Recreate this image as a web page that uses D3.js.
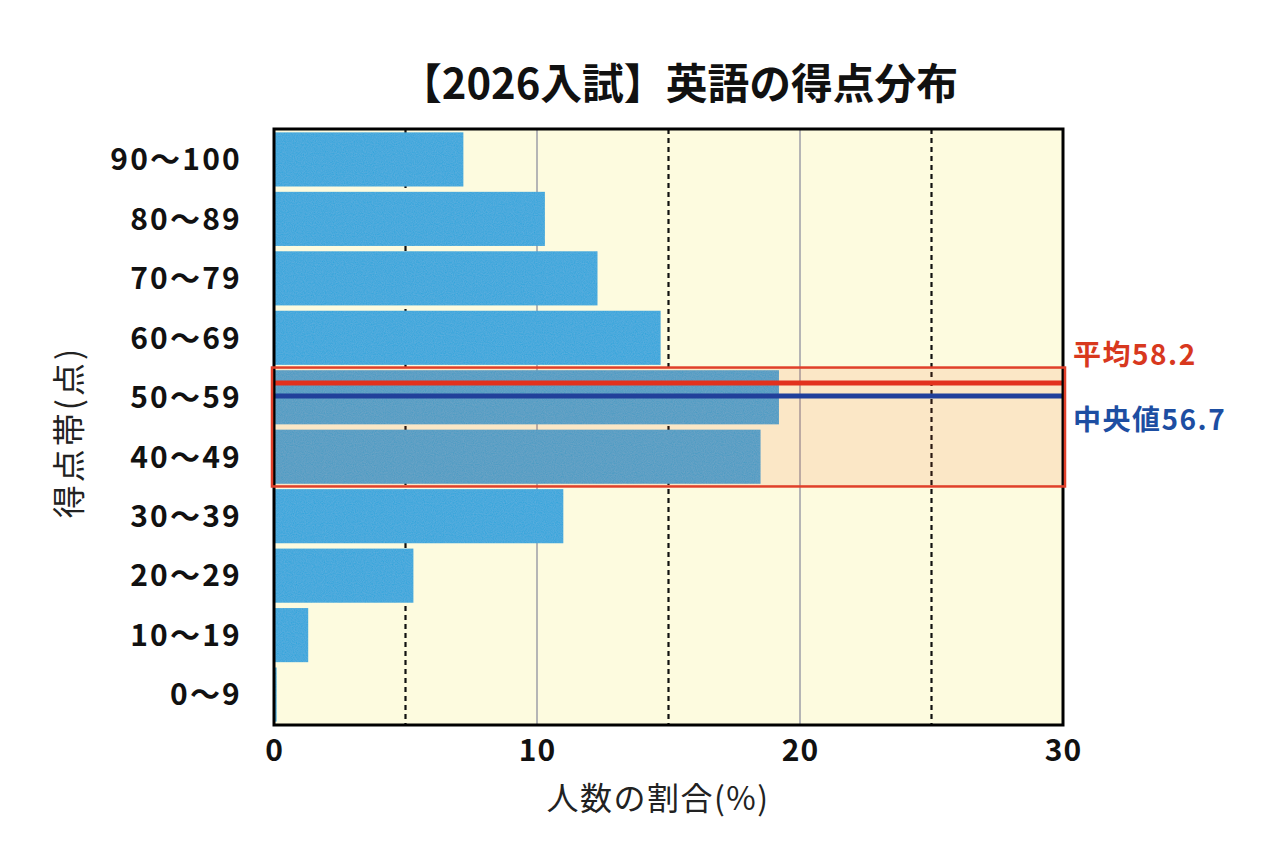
<!DOCTYPE html>
<html>
<head>
<meta charset="utf-8">
<script src="https://cdn.jsdelivr.net/npm/d3@7"></script>
<style>
html,body{margin:0;padding:0;background:#fff;}
svg{display:block;}
</style>
</head>
<body>
<svg id="chart" width="1262" height="853"></svg>
<script>
// ---- data ----
const categories = ["90〜100","80〜89","70〜79","60〜69","50〜59","40〜49","30〜39","20〜29","10〜19","0〜9"];
const shares = [7.2, 10.3, 12.3, 14.7, 19.2, 18.5, 11.0, 5.3, 1.3, 0.1];
const xTicks = [0, 10, 20, 30];
const solidGrid = [10, 20];
const dashedGrid = [5, 15, 25];
const meanScore = 58.2;
const medianScore = 56.7;
const highlightBands = ["50〜59", "40〜49"];
const titleText = "【2026入試】英語の得点分布";
const xTitle = "人数の割合(%)";
const yTitle = "得点帯(点)";
const meanLabel = "平均58.2";
const medianLabel = "中央値56.7";

// ---- layout ----
const L = 274, R = 1063, T = 129, B = 725;
const font = "'Noto Sans CJK JP','Noto Sans',sans-serif";
const svg = d3.select("#chart");

const x = d3.scaleLinear().domain([0, 30]).range([L, R]);
const y = d3.scaleBand().domain(categories).range([T + 1, B - 1]).paddingInner(0.09).paddingOuter(0.04);

// texture filter
const defs = svg.append("defs");
const f = defs.append("filter").attr("id", "tex").attr("x", 0).attr("y", 0).attr("width", 1).attr("height", 1);
f.append("feTurbulence").attr("type", "fractalNoise").attr("baseFrequency", 0.9).attr("numOctaves", 2).attr("seed", 3).attr("result", "noise");
f.append("feColorMatrix").attr("in", "noise").attr("type", "matrix")
  .attr("values", "0 0 0 0 1  0 0 0 0 1  0 0 0 0 1  0 0 0 0.09 0").attr("result", "wn");
f.append("feComposite").attr("in", "wn").attr("in2", "SourceGraphic").attr("operator", "in").attr("result", "wn2");
f.append("feMerge").call(m => { m.append("feMergeNode").attr("in", "SourceGraphic"); m.append("feMergeNode").attr("in", "wn2"); });

// background
svg.append("rect").attr("x", L).attr("y", T).attr("width", R - L).attr("height", B - T).attr("fill", "#fdfbdf");

// gridlines
svg.append("g").selectAll("line").data(solidGrid).join("line")
  .attr("x1", d => x(d)).attr("x2", d => x(d)).attr("y1", T).attr("y2", B)
  .attr("stroke", "#b5b5b5").attr("stroke-width", 2);
svg.append("g").selectAll("line").data(dashedGrid).join("line")
  .attr("x1", d => x(d)).attr("x2", d => x(d)).attr("y1", T).attr("y2", B)
  .attr("stroke", "#111").attr("stroke-width", 2.2).attr("stroke-dasharray", "5,4");

// bars
svg.append("g").selectAll("rect").data(categories).join("rect")
  .attr("x", x(0) + 1)
  .attr("y", d => y(d))
  .attr("width", (d, i) => Math.max(0, x(shares[i]) - x(0) - 1))
  .attr("height", y.bandwidth())
  .attr("fill", "#2fa4db")
  .attr("filter", "url(#tex)");

// highlight box
const step = y.step();
const boxTop = y(highlightBands[0]) - (y.step() - y.bandwidth()) / 2;
const boxBot = y(highlightBands[1]) + y.bandwidth() + (y.step() - y.bandwidth()) / 2;
svg.append("rect").attr("x", L - 2).attr("y", boxTop).attr("width", R - L + 4).attr("height", boxBot - boxTop)
  .attr("fill", "#f25a1c").attr("fill-opacity", 0.12);

// mean / median lines
const score = d3.scaleLinear().domain([60, 50]).range([boxTop, boxTop + step * 1.45]);
svg.append("line").attr("x1", L + 1).attr("x2", R).attr("y1", score(meanScore)).attr("y2", score(meanScore))
  .attr("stroke", "#e2311d").attr("stroke-width", 5);
svg.append("line").attr("x1", L + 1).attr("x2", R).attr("y1", score(medianScore)).attr("y2", score(medianScore))
  .attr("stroke", "#21409a").attr("stroke-width", 5);

// frame
svg.append("rect").attr("x", L).attr("y", T).attr("width", R - L).attr("height", B - T)
  .attr("fill", "none").attr("stroke", "#000").attr("stroke-width", 3);

// box stroke
svg.append("rect").attr("x", L - 2).attr("y", boxTop).attr("width", R - L + 4).attr("height", boxBot - boxTop)
  .attr("fill", "none").attr("stroke", "#e0402a").attr("stroke-width", 2.5);

// y axis labels
svg.append("g").selectAll("text").data(categories).join("text")
  .attr("x", 242).attr("y", d => y(d) + y.bandwidth() / 2)
  .attr("dy", "0.36em").attr("text-anchor", "end")
  .attr("font-family", font).attr("font-weight", 600).attr("font-size", 30)
  .attr("letter-spacing", 2.2).attr("fill", "#111")
  .text(d => d);

// x axis labels
svg.append("g").selectAll("text").data(xTicks).join("text")
  .attr("x", d => x(d) + 0.5).attr("y", 761).attr("text-anchor", "middle")
  .attr("font-family", font).attr("font-weight", 600).attr("font-size", 30)
  .attr("letter-spacing", 1).attr("fill", "#111")
  .text(d => d);

// titles
svg.append("text").attr("x", 400).attr("y", 99)
  .attr("font-family", font).attr("font-weight", 700).attr("font-size", 42).attr("fill", "#111")
  .attr("textLength", 558).attr("lengthAdjust", "spacingAndGlyphs")
  .text(titleText);
svg.append("text").attr("x", 658).attr("y", 810).attr("text-anchor", "middle")
  .attr("font-family", font).attr("font-weight", 400).attr("font-size", 32)
  .attr("letter-spacing", 1.5).attr("fill", "#222")
  .text(xTitle);
svg.append("text").attr("transform", "translate(81,432) rotate(-90)").attr("text-anchor", "middle")
  .attr("font-family", font).attr("font-weight", 400).attr("font-size", 33)
  .attr("letter-spacing", 3).attr("fill", "#222")
  .text(yTitle);

// annotations
svg.append("text").attr("x", 1073).attr("y", 365)
  .attr("font-family", font).attr("font-weight", 700).attr("font-size", 28)
  .attr("letter-spacing", 1.5).attr("fill", "#d8381e")
  .text(meanLabel);
svg.append("text").attr("x", 1073).attr("y", 430)
  .attr("font-family", font).attr("font-weight", 700).attr("font-size", 28)
  .attr("letter-spacing", 1.5).attr("fill", "#1d4ea2")
  .text(medianLabel);
</script>
</body>
</html>
